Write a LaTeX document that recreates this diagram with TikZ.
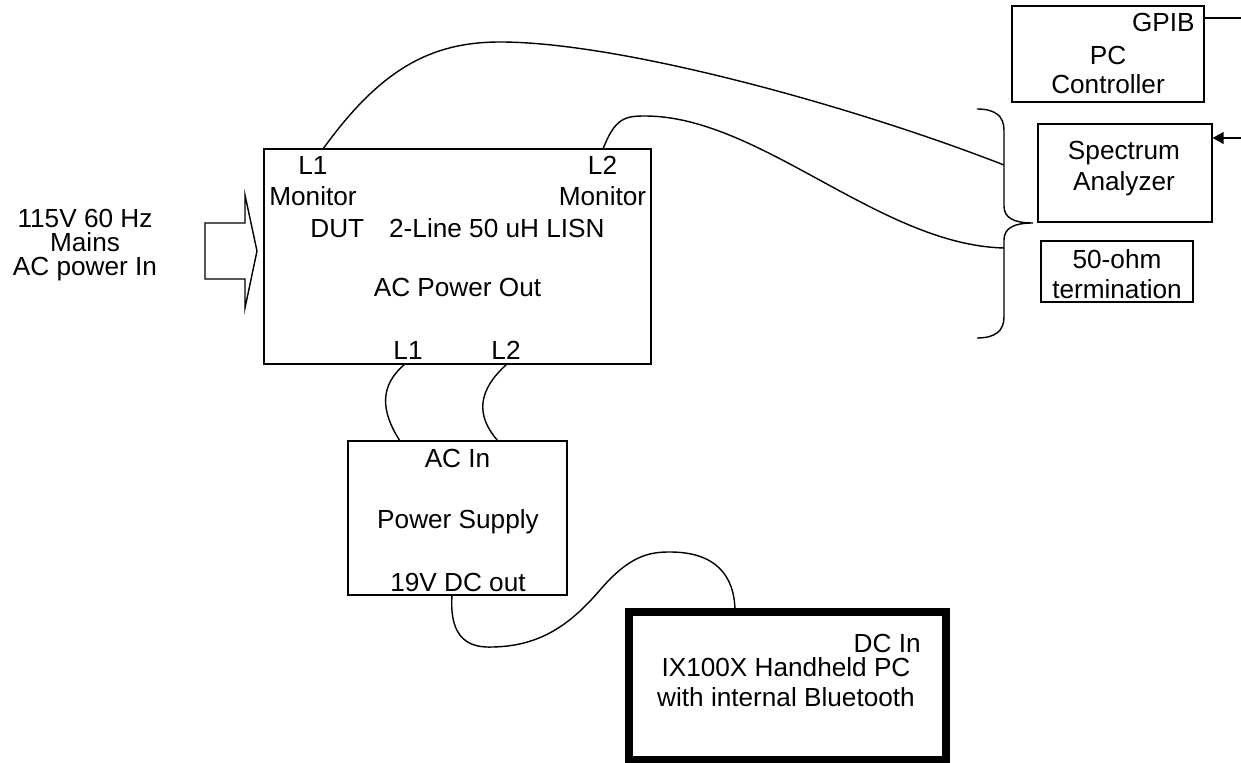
\documentclass[tikz,border=0pt]{standalone}
\usepackage{fontspec}
\setmainfont{Liberation Sans}
\usetikzlibrary{arrows.meta}

\begin{document}
\begin{tikzpicture}[x=0.02cm, y=-0.02cm,
        every node/.style={font=\fontsize{14.9}{17}\selectfont, inner sep=0pt},
        box/.style={draw, line width=0.8pt},
        cable/.style={line width=0.8pt},
        tall/.style={align=center, font=\fontsize{14.9}{17.6}\selectfont}]
        \useasboundingbox (0,0) rectangle (1241,763);

        % boxes
        \node[box, minimum width=7.74cm, minimum height=4.30cm] (lisn) at (457.5,256.5) {};
        \node[box, minimum width=4.38cm, minimum height=3.08cm] (ps) at (457.5,518) {};
        \node[box, minimum width=3.84cm, minimum height=1.92cm] (pc) at (1108,54) {};
        \node[box, minimum width=3.48cm, minimum height=1.96cm] (sa) at (1125,173) {};
        \node[box, minimum width=3.04cm, minimum height=1.22cm] (term) at (1117,271.5) {};
        \node[box, line width=4.5pt, minimum width=6.34cm, minimum height=2.95cm] (hh) at (787.5,685.75) {};

        % texts
        \node[align=center, font=\fontsize{14.9}{13.8}\selectfont] (mains) at (85,245) {115V 60 Hz\\Mains\\AC power In};
        \node[tall] (l1mon) at (313,181.2) {L1\\Monitor};
        \node[tall] (l2mon) at (602.5,181.2) {L2\\Monitor};
        \node[anchor=base] (lisnname) at (457.5,237.5) {DUT\hspace{0.5cm}2-Line 50 uH LISN};
        \node[anchor=base] (acout) at (457.5,297) {AC Power Out};
        \node[anchor=base] (outl1) at (408,359.5) {L1};
        \node[anchor=base] (outl2) at (506,359.5) {L2};
        \node[anchor=base] (acin) at (457.5,467.5) {AC In};
        \node[anchor=base] (psname) at (458,528.5) {Power Supply};
        \node[anchor=base] (dcout) at (458,591.5) {19V DC out};
        \node[anchor=base east] (gpib) at (1195,32) {GPIB};
        \node[align=center] (pcname) at (1108,70) {PC\\Controller};
        \node[tall] (saname) at (1124,168.5) {Spectrum\\Analyzer};
        \node[align=center] (termname) at (1117,274) {50-ohm\\termination};
        \node[anchor=base east] (dcin) at (921,652.5) {DC In};
        \node[align=center] (hhname) at (786,682.5) {IX100X Handheld PC\\with internal Bluetooth};

        % mains arrow
        \draw[box] (205,223) -- (245,223) -- (245,195) -- (257,251) -- (245,308) -- (245,279) -- (205,279) -- cycle;

        % brace
        \draw[cable] (977,109) .. controls (995,109) and (1004,116) .. (1004,130) -- (1004,206)
                .. controls (1004,218) and (1014,223) .. (1033,223)
                .. controls (1014,223) and (1004,228) .. (1004,240) -- (1004,317)
                .. controls (1004,331) and (995,338) .. (977,338);

        % ports
        \coordinate (mon1) at (323,149);
        \coordinate (mon2) at (603,149);
        \coordinate (brace1) at (1004,165);
        \coordinate (brace2) at (1004,248);
        \coordinate (ac1) at (405,364);
        \coordinate (ac2) at (507,364);
        \coordinate (in1) at (400,441);
        \coordinate (in2) at (498,441);
        \coordinate (dc1) at (452,595);
        \coordinate (dc2) at (735,612);
        \coordinate (gpibport) at (1204,18);
        \coordinate (gpibend) at (1241,18);
        \coordinate (saend) at (1241,138);

        % cables
        \draw[cable] (mon1) .. controls (380,70) and (430,42) .. (500,42)
                .. controls (620,42) and (850,105) .. (brace1);
        \draw[cable] (mon2) .. controls (615,118) and (625,116) .. (645,116)
                .. controls (760,116) and (880,245) .. (brace2);
        \draw[cable] (ac1) .. controls (380,385) and (380,410) .. (in1);
        \draw[cable] (ac2) .. controls (478,390) and (475,415) .. (in2);
        \draw[cable] (dc1) .. controls (449,640) and (470,648) .. (493,647)
                .. controls (540,646) and (570,625) .. (600,590)
                .. controls (630,555) and (650,552) .. (670,552)
                .. controls (715,552) and (735,575) .. (dc2);
        \draw[cable] (gpibport) -- (gpibend);
        \draw[cable, -{Triangle[length=0.22cm, width=0.24cm]}] (saend) -- (sa.east |- saend);
\end{tikzpicture}
\end{document}
